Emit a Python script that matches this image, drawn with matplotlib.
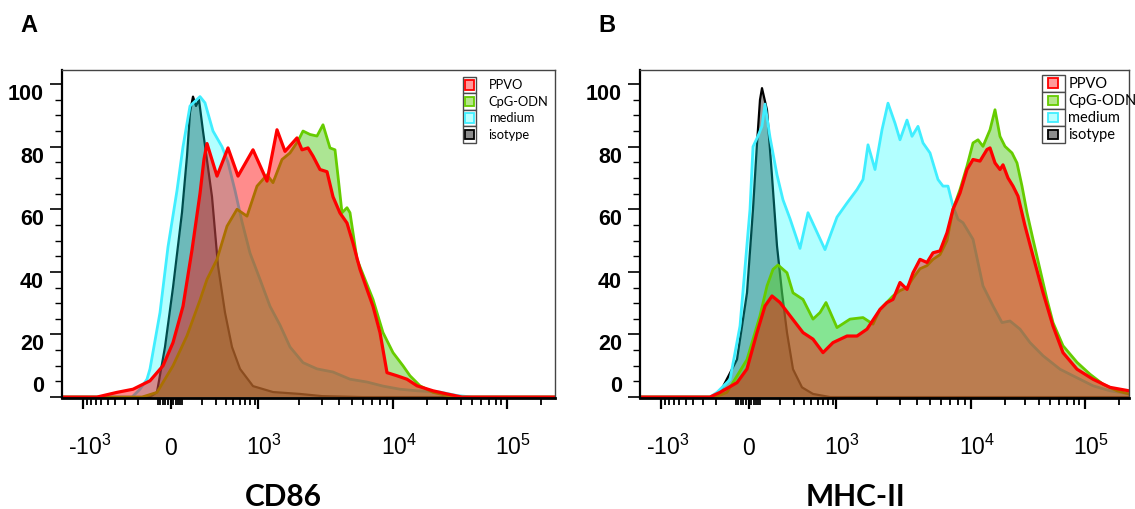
import numpy as np
import matplotlib
matplotlib.use("Agg")
import matplotlib.pyplot as plt
import matplotlib.transforms as mtransforms
from matplotlib.patches import Patch, Rectangle
from matplotlib.legend_handler import HandlerPatch

# ------------------------------------------------------------------ data
series_names = ["PPVO", "CpG-ODN", "medium", "isotype"]
panel_letters = ["A", "B"]
panel_titles = ["CD86", "MHC-II"]
x_tick_values = [-1e3, 0, 1e3, 1e4, 1e5]
x_tick_labels = [r"-$\mathregular{10^{3}}$", "0", r"$\mathregular{10^{3}}$",
                 r"$\mathregular{10^{4}}$", r"$\mathregular{10^{5}}$"]
y_ticks = [0, 20, 40, 60, 80, 100]

# biexponential display: fluorescence value -> display channel
scale_values = [-1e3, -100, 0, 100, 1e3, 1e4, 1e5, 1e6]
scale_channels = [21.3, 96.3, 108.7, 119.7, 196.3, 330.7, 444.7, 558.7]

# Panel A (CD86): display channel / % of max
cd86_iso_ch = [0, 88, 95, 103, 111, 120, 125, 128, 131, 134, 137, 141, 150, 156, 163, 170, 178, 191, 211, 238, 260, 300, 493]
cd86_iso_y = [0, 0, 1.6, 16, 35, 59, 77, 91, 96, 93, 95, 85, 64, 42, 27, 16, 9, 3.5, 1.6, 1, 0.3, 0, 0]

cd86_med_ch = [0, 70, 78, 85, 88, 98, 106, 115, 121, 128, 138, 143, 151, 160, 166, 173, 180, 188, 198, 208, 218, 228,
               241, 255, 271, 288, 305, 321, 338, 355, 378, 395, 410, 493]
cd86_med_y = [0, 0, 2.5, 5.7, 9, 27, 48, 66, 80, 93, 96, 94, 85, 80, 75, 66, 56, 46, 37.6, 29, 23, 16,
              11, 9, 8, 5.7, 4.8, 3.5, 2.5, 2, 1.6, 0.5, 0, 0]

cd86_cpg_ch = [0, 80, 95, 111, 125, 138, 145, 155, 165, 175, 185, 195, 205, 211, 220, 228, 236, 241, 248, 255, 261,
               268, 273, 276, 280, 285, 288, 295, 303, 311, 321, 331, 341, 348, 358, 371, 385, 400, 493]
cd86_cpg_y = [0, 0, 1.5, 10, 19.6, 31, 37.6, 44, 54.6, 60, 57.8, 67.4, 71, 68.5, 75.9, 78, 81.8, 85, 83.9, 83.4, 87,
              79.6, 79, 70.6, 58.9, 60.5, 58.9, 44, 37.6, 31.2, 20.6, 14.2, 10, 6.8, 3.6, 1.5, 0.5, 0, 0]

cd86_ppvo_ch = [0, 35, 55, 71, 88, 101, 111, 121, 130, 138, 142, 145, 155, 166, 176, 191, 205, 215, 223, 235, 240,
                246, 251, 258, 265, 271, 278, 285, 291, 298, 305, 311, 318, 325, 335, 345, 355, 371, 385, 400, 493]
cd86_ppvo_y = [0, 0, 1.5, 2.5, 5.2, 10, 17.4, 29, 47, 65, 76, 81, 70.6, 79.6, 70.6, 79, 69, 85.4, 78.5, 82.8, 79,
               79.6, 77, 72.7, 72, 64, 58.8, 55.6, 49.2, 40.8, 34.4, 29, 20.6, 7.8, 6.8, 5.7, 3.6, 2, 1, 0, 0]

# Panel B (MHC-II)
mhc_iso_ch = [0, 75, 80, 97, 107, 113, 117, 120, 122, 127, 132, 137, 142, 147, 153, 162, 173, 190, 489]
mhc_iso_y = [0, 0, 1.5, 12, 33.3, 60, 81, 95, 98.7, 91.7, 70.6, 48.3, 33.4, 20.6, 8.9, 3.1, 1, 0, 0]

mhc_med_ch = [0, 70, 77, 90, 100, 110, 113, 118, 122, 125, 130, 137, 143, 150, 160, 168, 185, 197, 207, 217, 223,
              228, 235, 242, 248, 255, 260, 267, 272, 278, 283, 290, 293, 298, 303, 308, 313, 318, 323, 333, 343,
              353, 362, 370, 380, 390, 403, 420, 433, 453, 470, 489]
mhc_med_y = [0, 0, 1.5, 5.6, 22.7, 60, 80, 83.4, 86.6, 93.6, 83, 71, 63, 57, 47.5, 58.9, 47.1, 57.5, 62, 66.3, 69.5,
             80.6, 72.7, 85.4, 93.9, 87.5, 82.2, 88.5, 83.3, 86.5, 81.2, 78, 74.8, 69.5, 67.4, 67.4, 61, 56.8, 55.7,
             50.4, 35.5, 29.1, 23.8, 24.3, 21.7, 17.4, 13.2, 8.9, 6.8, 3.6, 2, 1]

mhc_cpg_ch = [0, 75, 87, 107, 120, 127, 133, 138, 147, 153, 163, 173, 180, 186, 197, 210, 223, 233, 240, 253, 260,
              267, 273, 280, 287, 293, 300, 307, 313, 320, 327, 333, 338, 343, 350, 355, 360, 365, 372, 377, 382,
              387, 393, 400, 407, 413, 423, 437, 450, 463, 477, 489]
mhc_cpg_y = [0, 0, 1.5, 12, 26, 35.5, 40.8, 42.2, 39.7, 33.3, 31.2, 24.9, 27, 30.2, 22.2, 24.9, 25.4, 23.3, 28, 32.3,
             34, 35, 38, 41, 42, 44, 45.5, 50, 60, 66.3, 73.8, 81.2, 82.2, 80.1, 85.4, 91.8, 83.3, 80.1, 78, 74.8,
             67.4, 58.9, 50.4, 40.8, 31.2, 23.8, 16.4, 11.1, 7.3, 4.1, 2, 1]

mhc_ppvo_ch = [0, 70, 80, 97, 107, 117, 125, 132, 140, 150, 163, 173, 183, 193, 207, 217, 227, 240, 247, 253, 260,
               267, 273, 280, 287, 293, 300, 307, 313, 320, 327, 333, 340, 347, 350, 355, 360, 363, 368, 373, 378,
               385, 393, 403, 413, 423, 437, 453, 470, 489]
mhc_ppvo_y = [0, 0, 1.5, 4.6, 9, 20.6, 29.1, 32.3, 30.2, 26, 20.6, 18.5, 14.2, 17.4, 19.5, 19.5, 21.7, 28, 30.2, 31.2,
              36.6, 34.4, 39.7, 44, 43, 46.1, 46.7, 52.5, 60, 65.2, 72.7, 75.9, 75.4, 79.1, 79.6, 74.8, 72.7, 74.2,
              70, 67.4, 64.2, 54.7, 45.1, 33.4, 22.7, 14.2, 8.9, 5.7, 3.1, 2]

panels = [
    {"iso": (cd86_iso_ch, cd86_iso_y), "med": (cd86_med_ch, cd86_med_y),
     "cpg": (cd86_cpg_ch, cd86_cpg_y), "ppvo": (cd86_ppvo_ch, cd86_ppvo_y)},
    {"iso": (mhc_iso_ch, mhc_iso_y), "med": (mhc_med_ch, mhc_med_y),
     "cpg": (mhc_cpg_ch, mhc_cpg_y), "ppvo": (mhc_ppvo_ch, mhc_ppvo_y)},
]

# ------------------------------------------------------------------ style
styles = {
    "iso": dict(fill="#3c3c3c", falpha=0.50, line="#000000", lw=1.6),
    "med": dict(fill="#00ffff", falpha=0.30, line="#40eeff", lw=2.0),
    "cpg": dict(fill="#5acd28", falpha=0.50, line="#66cc00", lw=2.0),
    "ppvo": dict(fill="#ff0000", falpha=0.45, line="#ff0000", lw=2.3),
}
legend_face = {"ppvo": "#ff9a9a", "cpg": "#b5e68a", "med": "#b8ffff", "iso": "#8c8c8c"}
legend_keys = ["ppvo", "cpg", "med", "iso"]


def to_channel(v):
    v = np.asarray(v, dtype=float)
    return np.interp(np.arcsinh(v / 100.0), np.arcsinh(np.array(scale_values) / 100.0), scale_channels)


class BoxHandler(HandlerPatch):
    def create_artists(self, legend, orig_handle, xdescent, ydescent, width, height, fontsize, trans):
        x0, y0 = -xdescent, -ydescent
        outer = Rectangle((x0, y0), width, height, facecolor="white", edgecolor="#4a4a4a",
                          lw=1.0, transform=trans)
        s = height * 0.58
        inner = Rectangle((x0 + (width - s) / 2, y0 + (height - s) / 2), s, s,
                          facecolor=orig_handle.get_facecolor(), edgecolor=orig_handle.get_edgecolor(),
                          lw=1.3, transform=trans)
        return [outer, inner]


plt.rcParams["font.family"] = ["Liberation Sans", "DejaVu Sans"]
plt.rcParams["mathtext.fontset"] = "custom"
plt.rcParams["mathtext.rm"] = "Liberation Sans"

fig = plt.figure(figsize=(11.35, 5.09), dpi=100)
W, H = 1135, 509
ax_px = [(62, 555), (640, 1129)]
top_px, bot_px = 70, 398
label_baseline_px = 455
leg_cfg = [dict(fs=9.3, hl=1.0, hh=1.58, tp=1.0, x=0.813, y=0.979),
           dict(fs=10.5, hl=1.55, hh=1.42, tp=0.25, x=0.822, y=0.985)]

minor_vals = (list(np.arange(-900, -100 + 1, 100)) + list(np.arange(-80, 81, 20)) +
              list(np.arange(100, 901, 100)) + list(np.arange(2e3, 9.1e3, 1e3)) +
              list(np.arange(2e4, 9.1e4, 1e4)) + [2e5])
minor_vals = [m for m in minor_vals if m != 0]

for i, (l, r) in enumerate(ax_px):
    ax = fig.add_axes([l / W, (H - bot_px) / H, (r - l) / W, (bot_px - top_px) / H])
    d = panels[i]
    for k, key in enumerate(["iso", "med", "cpg", "ppvo"]):
        ch, y = d[key]
        st = styles[key]
        ax.fill_between(ch, 0, y, color=st["fill"], alpha=st["falpha"], lw=0, zorder=2 + 2 * k)
        ax.plot(ch, y, color=st["line"], lw=st["lw"], solid_joinstyle="round", zorder=3 + 2 * k)
    ax.set_xlim(0, r - l)
    ax.set_ylim(-0.3, 104.5)

    ax.set_yticks(y_ticks)
    ax.set_yticks(np.arange(0, 101, 5), minor=True)
    ax.set_yticklabels([str(t) for t in y_ticks], fontsize=15.5, fontweight="bold")
    for lab, t in zip(ax.get_yticklabels(), y_ticks):
        lab.set_verticalalignment("bottom" if t == 0 else "top")

    xt = to_channel(x_tick_values)
    ax.set_xticks(xt)
    ax.set_xticklabels([])
    ax.set_xticks(to_channel(minor_vals), minor=True)
    base = mtransforms.blended_transform_factory(ax.transData, ax.transAxes)
    yb = -(label_baseline_px - bot_px) / (bot_px - top_px)
    for pos, lab in zip(xt, x_tick_labels):
        dx = 0 if lab == "0" else 6
        tr = mtransforms.offset_copy(base, fig=fig, x=dx, y=0, units="dots")
        ax.text(pos, yb, lab, transform=tr, ha="center", va="baseline", fontsize=16.5, clip_on=False)

    ax.tick_params(axis="y", which="major", length=9, width=1.2, pad=4)
    ax.tick_params(axis="y", which="minor", length=5, width=1.0)
    ax.tick_params(axis="x", which="major", length=8, width=1.6)
    ax.tick_params(axis="x", which="minor", length=5, width=1.3)
    for s in ["top", "right"]:
        ax.spines[s].set_color("#444444")
        ax.spines[s].set_linewidth(1.0)
    ax.spines["left"].set_linewidth(1.6)
    ax.spines["bottom"].set_linewidth(2.0)
    for s in ax.spines.values():
        s.set_zorder(20)

    cfg = leg_cfg[i]
    handles = [Patch(facecolor=legend_face[k], edgecolor=styles[k]["line"] if k != "iso" else "#000000")
               for k in legend_keys]
    leg = ax.legend(handles, series_names, loc="upper left", bbox_to_anchor=(cfg["x"], cfg["y"]),
                    frameon=False, borderpad=0, borderaxespad=0, labelspacing=0,
                    handlelength=cfg["hl"], handleheight=cfg["hh"], handletextpad=cfg["tp"],
                    prop={"family": ["Lato", "DejaVu Sans"], "size": cfg["fs"]},
                    handler_map={Patch: BoxHandler()})
    leg.set_zorder(30)

fig.text(20 / W, 1 - 26 / H, panel_letters[0], fontsize=17, fontweight="bold", va="center", ha="left")
fig.text(598 / W, 1 - 26 / H, panel_letters[1], fontsize=17, fontweight="bold", va="center", ha="left")
fig.text(283 / W, 1 - 497 / H, panel_titles[0], fontsize=21.5, fontweight="bold", va="center", ha="center",
         family=["Lato", "DejaVu Sans"])
fig.text(855 / W, 1 - 497 / H, panel_titles[1], fontsize=21.5, fontweight="bold", va="center", ha="center",
         family=["Lato", "DejaVu Sans"])

fig.savefig("out.png", dpi=100, facecolor="white")
